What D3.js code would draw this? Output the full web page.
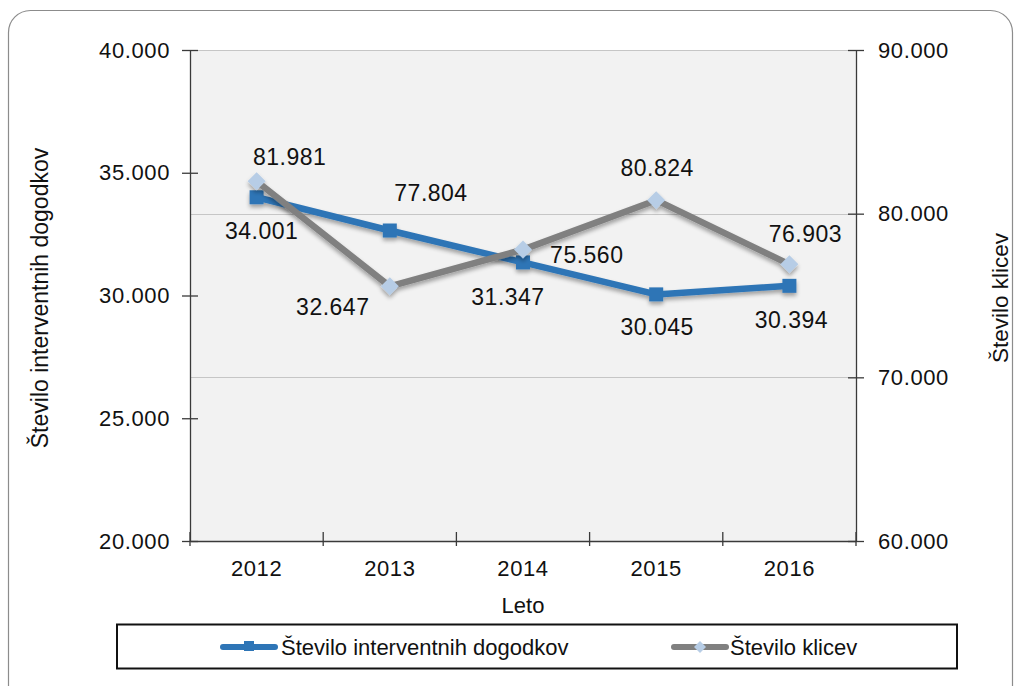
<!DOCTYPE html>
<html><head><meta charset="utf-8">
<script src="https://cdn.jsdelivr.net/npm/d3@7"></script>
<style>
body{margin:0;background:#fff;}
svg{display:block;font-family:"Liberation Sans",Arial,sans-serif;}
</style></head>
<body>
<script>
const years = ["2012","2013","2014","2015","2016"];
const interventni = [34001, 32647, 31347, 30045, 30394];
const klici = [81981, 75560, 77804, 80824, 76903];
const leftTicks = [20000, 25000, 30000, 35000, 40000];
const rightTicks = [60000, 70000, 80000, 90000];
const seriesNames = ["Število interventnih dogodkov", "Število klicev"];
// manual label placement offsets (dx, dy) relative to each point
const blueLabelOffsets = [[5,34],[-57,76],[-15,35],[1,33],[2,34]];
const grayLabelOffsets = [[33,-24],[197,-31],[-92,-57],[1,-32],[16,-30]];

const W = 1014, H = 686;
const svg = d3.select("body").append("svg").attr("width", W).attr("height", H);
const fmt3 = v => { const s = String(v); return s.slice(0, s.length-3) + "." + s.slice(-3); };

const defs = svg.append("defs");
const f = defs.append("filter").attr("id","sh").attr("x","-20%").attr("y","-20%").attr("width","140%").attr("height","160%");
f.append("feGaussianBlur").attr("in","SourceAlpha").attr("stdDeviation",2);
f.append("feOffset").attr("dx",0).attr("dy",3).attr("result","o");
f.append("feComponentTransfer").append("feFuncA").attr("type","linear").attr("slope",0.35);
const m = f.append("feMerge"); m.append("feMergeNode"); m.append("feMergeNode").attr("in","SourceGraphic");

// outer frame
svg.append("rect").attr("x",8.5).attr("y",10.5).attr("width",1004).attr("height",700)
  .attr("rx",22).attr("fill","#fff").attr("stroke","#8c8c8c").attr("stroke-width",1.2);

const L = 190, R = 856, T = 50, B = 541;
const x = d3.scaleBand().domain(years).range([L, R]);
const yL = d3.scaleLinear().domain([20000, 40000]).range([B, T]);
const yR = d3.scaleLinear().domain([60000, 90000]).range([B, T]);

svg.append("rect").attr("x",L).attr("y",T).attr("width",R-L).attr("height",B-T).attr("fill","#f2f2f2");

// gridlines from right axis
svg.append("g").selectAll("line").data(rightTicks.filter(d=>d>60000)).join("line")
  .attr("x1",L).attr("x2",R).attr("y1",d=>Math.round(yR(d))+0.5).attr("y2",d=>Math.round(yR(d))+0.5)
  .attr("stroke","#c6c6c6").attr("stroke-width",1.2);

const axisColor = "#3a3a3a";
function styleAxis(g){
  g.select(".domain").attr("stroke",axisColor).attr("stroke-width",1.3);
  g.selectAll(".tick line").attr("stroke",axisColor).attr("stroke-width",1.3);
  g.selectAll(".tick text").attr("font-size",22).attr("letter-spacing",0.6).attr("fill","#111");
}
// left axis
const gl = svg.append("g").attr("transform",`translate(${L},0)`)
  .call(d3.axisLeft(yL).tickValues(leftTicks).tickSize(8).tickSizeOuter(0).tickPadding(12).tickFormat(fmt3));
styleAxis(gl);
gl.selectAll(".tick line").attr("x1",8).attr("x2",-8);
gl.selectAll(".tick text").attr("x",-20);
// right axis
const gr = svg.append("g").attr("transform",`translate(${R},0)`)
  .call(d3.axisRight(yR).tickValues(rightTicks).tickSize(8).tickSizeOuter(0).tickFormat(fmt3));
styleAxis(gr);
gr.selectAll(".tick line").attr("x1",-8).attr("x2",8);
gr.selectAll(".tick text").attr("x",22);
// bottom axis
const gb = svg.append("g").attr("transform",`translate(0,${B})`)
  .call(d3.axisBottom(x).tickSize(0).tickPadding(19));
styleAxis(gb);
gb.selectAll(".tick text").attr("dy","0.71em");
gb.selectAll(".boundary").data(years.map(d=>x(d)).concat([R])).join("line")
  .attr("x1",d=>d).attr("x2",d=>d).attr("y1",-9).attr("y2",5).attr("stroke",axisColor).attr("stroke-width",1.3);

// axis titles
svg.append("text").attr("transform",`translate(48,298) rotate(-90)`).attr("text-anchor","middle")
  .attr("font-size",23).attr("fill","#111").text(seriesNames[0]);
svg.append("text").attr("transform",`translate(1008,298) rotate(-90)`).attr("text-anchor","middle")
  .attr("font-size",22.5).attr("fill","#111").text(seriesNames[1]);
svg.append("text").attr("x",523).attr("y",613).attr("text-anchor","middle")
  .attr("font-size",22).attr("fill","#111").text("Leto");

const blue = "#2e75b6", gray = "#808080", diamondFill = "#b7cde6";
const cx = d => x(d) + x.bandwidth()/2;
const blueData = years.map((d,i)=>({year:d, v:interventni[i], off:blueLabelOffsets[i]}));
const grayData = years.map((d,i)=>({year:d, v:klici[i], off:grayLabelOffsets[i]}));

// blue series
const gBlue = svg.append("g").attr("filter","url(#sh)");
gBlue.append("path").datum(blueData).attr("fill","none").attr("stroke",blue).attr("stroke-width",6.5)
  .attr("stroke-linejoin","round").attr("d", d3.line().x(d=>cx(d.year)).y(d=>yL(d.v)));
gBlue.selectAll("rect").data(blueData).join("rect")
  .attr("x",d=>cx(d.year)-7).attr("y",d=>yL(d.v)-7).attr("width",14).attr("height",14).attr("fill",blue);

// gray series
const gGray = svg.append("g").attr("filter","url(#sh)");
gGray.append("path").datum(grayData).attr("fill","none").attr("stroke",gray).attr("stroke-width",6.5)
  .attr("stroke-linejoin","round").attr("d", d3.line().x(d=>cx(d.year)).y(d=>yR(d.v)));
gGray.selectAll("path.dm").data(grayData).join("path").attr("class","dm")
  .attr("transform",d=>`translate(${cx(d.year)},${yR(d.v)})`)
  .attr("d","M0,-9L9,0L0,9L-9,0Z").attr("fill",diamondFill);

// labels
svg.append("g").selectAll("text").data(blueData).join("text")
  .attr("x",d=>cx(d.year)+d.off[0]).attr("y",d=>yL(d.v)+d.off[1]).attr("dy","0.35em")
  .attr("text-anchor","middle").attr("font-size",23).attr("letter-spacing",0.5).attr("fill","#111").text(d=>fmt3(d.v));
svg.append("g").selectAll("text").data(grayData).join("text")
  .attr("x",d=>cx(d.year)+d.off[0]).attr("y",d=>yR(d.v)+d.off[1]).attr("dy","0.35em")
  .attr("text-anchor","middle").attr("font-size",23).attr("letter-spacing",0.5).attr("fill","#111").text(d=>fmt3(d.v));

// legend
svg.append("rect").attr("x",117).attr("y",624.5).attr("width",840).attr("height",44)
  .attr("fill","#fff").attr("stroke","#111").attr("stroke-width",2);
const lg = svg.append("g");
lg.append("line").attr("x1",223).attr("x2",275).attr("y1",647).attr("y2",647).attr("stroke",blue).attr("stroke-width",6).attr("stroke-linecap","round");
lg.append("rect").attr("x",244).attr("y",641).attr("width",10).attr("height",10).attr("fill",blue);
lg.append("text").attr("x",281).attr("y",647).attr("dy","0.35em").attr("font-size",22).attr("fill","#111").text(seriesNames[0]);
lg.append("line").attr("x1",674).attr("x2",726).attr("y1",647).attr("y2",647).attr("stroke",gray).attr("stroke-width",6).attr("stroke-linecap","round");
lg.append("path").attr("transform","translate(700,647)").attr("d","M0,-6L6,0L0,6L-6,0Z").attr("fill",diamondFill);
lg.append("text").attr("x",730).attr("y",647).attr("dy","0.35em").attr("font-size",22).attr("fill","#111").text(seriesNames[1]);
</script>
</body></html>
